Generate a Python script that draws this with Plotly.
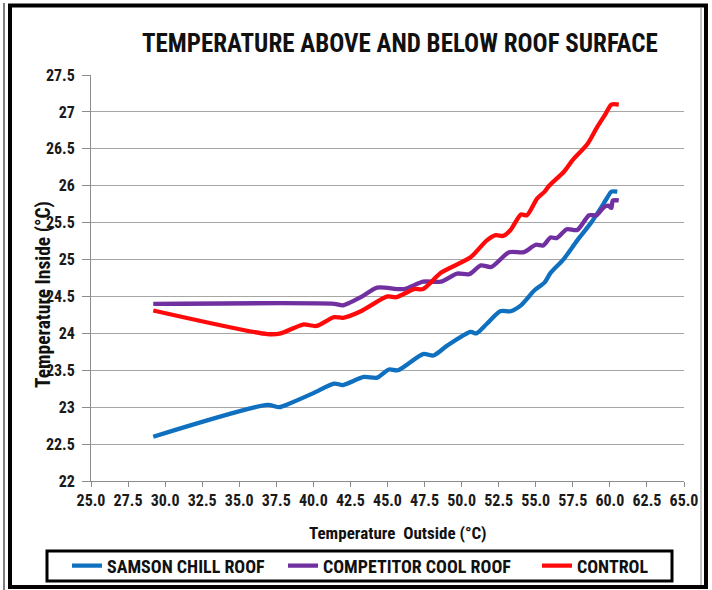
import plotly.graph_objects as go

# ---------------- data ----------------
samson_x = [29.2, 36.9, 37.7, 38.4, 40.0, 41.4, 42.0, 43.4, 44.3, 45.1, 45.7, 47.4, 48.1,
            49.0, 50.6, 51.0, 51.7, 52.6, 53.3, 54.0, 54.9, 55.6, 56.0, 56.9, 57.8, 58.7,
            59.3, 59.8, 60.1, 60.5]
samson_y = [22.6, 23.03, 23.0, 23.05, 23.19, 23.32, 23.3, 23.41, 23.4, 23.51, 23.5, 23.72, 23.7,
            23.83, 24.02, 24.0, 24.13, 24.3, 24.3, 24.38, 24.58, 24.69, 24.82, 25.01, 25.26, 25.49,
            25.67, 25.83, 25.92, 25.92]

competitor_x = [29.2, 41.4, 42.0, 43.2, 44.3, 46.1, 47.4, 48.6, 49.7, 50.5, 51.3, 52.0, 53.2,
                54.2, 55.0, 55.5, 56.0, 56.4, 57.1, 57.8, 58.6, 59.1, 59.6, 59.9, 60.1, 60.2, 60.6]
competitor_y = [24.4, 24.4, 24.38, 24.49, 24.62, 24.6, 24.7, 24.7, 24.81, 24.8, 24.92, 24.9, 25.1,
                25.1, 25.2, 25.19, 25.3, 25.29, 25.41, 25.4, 25.6, 25.6, 25.71, 25.73, 25.7, 25.8, 25.8]

control_x = [29.2, 36.9, 37.8, 39.3, 40.2, 41.4, 42.0, 43.2, 45.0, 45.6, 46.8, 47.4, 48.6,
             50.6, 51.7, 52.3, 52.8, 53.3, 54.0, 54.4, 55.1, 55.6, 55.9, 56.9, 57.5, 58.5,
             59.1, 59.7, 60.1, 60.6]
control_y = [24.31, 23.99, 24.0, 24.12, 24.1, 24.22, 24.21, 24.3, 24.5, 24.49, 24.6, 24.6, 24.82,
             25.03, 25.26, 25.33, 25.32, 25.4, 25.61, 25.6, 25.83, 25.92, 26.0, 26.19, 26.35, 26.57,
             26.78, 26.97, 27.1, 27.1]

series_names = ["SAMSON CHILL ROOF", "COMPETITOR COOL ROOF", "CONTROL"]
x_ticks = [25.0, 27.5, 30.0, 32.5, 35.0, 37.5, 40.0, 42.5, 45.0, 47.5, 50.0, 52.5, 55.0, 57.5, 60.0, 62.5, 65.0]
y_ticks = [22, 22.5, 23, 23.5, 24, 24.5, 25, 25.5, 26, 26.5, 27, 27.5]

# ---------------- layout helpers ----------------
W, H = 712, 590
L, R, T, B = 91, 684, 75, 481   # plot area in pixels


def px(v):
    return (v - L) / (R - L)


def py(v):
    return (B - v) / (B - T)


FONT = "Liberation Sans Narrow, Arial Narrow, Roboto Condensed, Liberation Sans, Arial, sans-serif"
colors = ["#0F70C0", "#7030A0", "#FF0A0A"]

fig = go.Figure()
data = [(samson_x, samson_y), (competitor_x, competitor_y), (control_x, control_y)]
legend_ids = ["legend", "legend2", "legend3"]
for (xs, ys), name, c, lg in zip(data, series_names, colors, legend_ids):
    fig.add_trace(go.Scatter(
        x=xs, y=ys, mode="lines", name=name, legend=lg,
        line=dict(color=c, width=4.3, shape="spline", smoothing=0.7),
    ))

legend_font = dict(family=FONT, size=18, color="#111111", weight="bold")
leg_starts = [67, 283, 537]
legends = {}
for lg, xs in zip(legend_ids, leg_starts):
    legends[lg] = dict(
        xref="container", yref="container",
        x=xs / W, y=1 - 566 / H, xanchor="left", yanchor="middle",
        orientation="h", font=legend_font, bgcolor="rgba(0,0,0,0)",
        borderwidth=0, itemwidth=30, tracegroupgap=0,
    )

fig.update_layout(
    width=W, height=H,
    margin=dict(l=L, r=W - R, t=T, b=H - B, pad=0, autoexpand=False),
    paper_bgcolor="white", plot_bgcolor="white",
    showlegend=True,
    font=dict(family=FONT, color="#1a1a1a"),
    **legends,
)

tick_font = dict(family=FONT, size=16, color="#1a1a1a", weight="bold")
fig.update_xaxes(
    range=[25, 65], tickvals=x_ticks, ticktext=[f"{v:.1f}" for v in x_ticks],
    showgrid=False, zeroline=False, showline=True, linecolor="#8c8c8c", linewidth=1,
    ticks="outside", ticklen=5, tickcolor="#8c8c8c", tickfont=tick_font, automargin=False,
)
fig.update_yaxes(
    range=[22, 27.5], tickvals=y_ticks, ticktext=[f"{v:g}" for v in y_ticks],
    showgrid=True, gridcolor="#a6a6a6", gridwidth=1, zeroline=False,
    showline=True, linecolor="#8c8c8c", linewidth=1,
    ticks="outside", ticklen=8, tickcolor="#8c8c8c", tickfont=tick_font, automargin=False,
    ticklabelstandoff=4,
)

annotations = [
    dict(text="TEMPERATURE ABOVE AND BELOW ROOF SURFACE", x=px(400), y=py(43),
         font=dict(family=FONT, size=25, color="#111111", weight="bold")),
    dict(text="Temperature  Outside (°C)", x=px(398), y=py(533),
         font=dict(family=FONT, size=17, color="#111111", weight="bold")),
    dict(text="Temperature Inside (°C)", x=px(43), y=py(295), textangle=-90,
         font=dict(family=FONT, size=19.5, color="#111111", weight="bold")),
]
for a in annotations:
    fig.add_annotation(xref="paper", yref="paper", xanchor="center", yanchor="middle",
                       showarrow=False, **a)

shapes = [
    # thin outer gray line at left
    dict(x0=px(4), x1=px(4), y0=py(3), y1=py(590), line=dict(color="#555555", width=1.5)),
    # main black frame
    dict(type="rect", x0=px(10), x1=px(706), y0=py(5.5), y1=py(587), line=dict(color="black", width=4)),
    # inner thin line at right
    dict(x0=px(701), x1=px(701), y0=py(8), y1=py(585), line=dict(color="#888888", width=1)),
    # legend box
    dict(type="rect", x0=px(47), x1=px(672), y0=py(551), y1=py(581), line=dict(color="black", width=3)),
]
for s in shapes:
    s.setdefault("type", "line")
    fig.add_shape(xref="paper", yref="paper", layer="above", **s)

fig.write_html(
    "out.html",
    config={"displayModeBar": False},
    post_script="document.body.style.margin='0';document.body.style.overflow='hidden';",
)
